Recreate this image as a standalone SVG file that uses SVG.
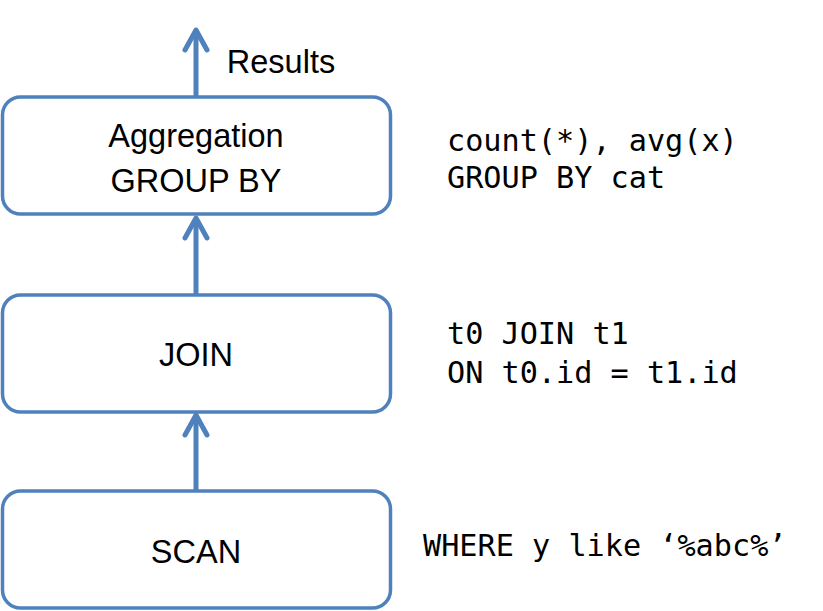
<svg xmlns="http://www.w3.org/2000/svg" width="823" height="611" viewBox="0 0 823 611">
<style>
.box{fill:#fff;stroke:#4F81BD;stroke-width:3.5}
.lbl{font-family:"Liberation Sans","Open Sans",Arial,sans-serif;font-size:32.5px;fill:#000;text-anchor:middle}
.code{font-family:"DejaVu Sans Mono","Liberation Mono",monospace;font-size:30.2px;fill:#000}
.conn{stroke:#4F81BD;stroke-width:5;fill:none}
.head{stroke:#4F81BD;stroke-width:5;fill:none;stroke-linecap:round;stroke-linejoin:round}
</style>
<rect width="823" height="611" fill="#fff"/>
<g id="connectors">
<line class="conn" x1="196" y1="97" x2="196" y2="30"/>
<polyline class="head" points="185,50 196,30 207,50"/>
<line class="conn" x1="196" y1="295" x2="196" y2="218"/>
<polyline class="head" points="185,238 196,218 207,238"/>
<line class="conn" x1="196" y1="491" x2="196" y2="415"/>
<polyline class="head" points="185,435 196,415 207,435"/>
</g>
<text class="lbl" x="281" y="73">Results</text>
<g id="aggregation">
<rect class="box" x="2.5" y="97" width="388" height="117" rx="18"/>
<text class="lbl" x="196" y="147">Aggregation</text>
<text class="lbl" x="196" y="192">GROUP BY</text>
</g>
<g id="join">
<rect class="box" x="2.5" y="295" width="388" height="117" rx="18"/>
<text class="lbl" x="196" y="366">JOIN</text>
</g>
<g id="scan">
<rect class="box" x="2.5" y="491" width="388" height="117" rx="18"/>
<text class="lbl" x="196" y="563">SCAN</text>
</g>
<g id="notes">
<text class="code" x="447" y="151">count(*), avg(x)</text>
<text class="code" x="447" y="188">GROUP BY cat</text>
<text class="code" x="447" y="344">t0 JOIN t1</text>
<text class="code" x="447" y="383">ON t0.id = t1.id</text>
<text class="code" x="423" y="556">WHERE y like ‘%abc%’</text>
</g>
</svg>
